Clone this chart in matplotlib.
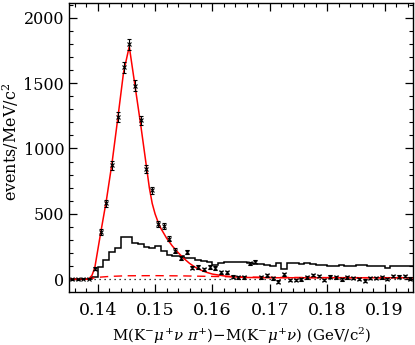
import numpy as np
import matplotlib
matplotlib.use("Agg")
import matplotlib.pyplot as plt
from matplotlib.ticker import MultipleLocator

plt.rcParams['font.family'] = ['DejaVu Serif']
plt.rcParams['mathtext.fontset'] = 'dejavuserif'

# bin layout (60 bins of 1 MeV)
bin_lo = 0.135
bin_w = 0.001
n_bins = 60

# data points (events per bin)
data_vals = [2, 2, 3, 5, 80, 360, 580, 870, 1240, 1620,
             1795, 1480, 1215, 842, 680, 422, 408, 310, 220, 165,
             209, 89, 96, 76, 92, 84, 54, 54, 20, 15,
             15, 122, 135, 15, 31, 8, -18, 38, -5, -5,
             0, 15, 33, 25, -5, 20, 15, 0, 15, 10,
             3, -10, 10, 10, 15, 3, 25, 20, 25, 5]
data_errs = [4, 4, 4, 5, 12, 22, 28, 32, 38, 42,
             45, 40, 36, 32, 28, 24, 24, 20, 18, 16,
             18, 14, 14, 14, 14, 14, 12, 12, 10, 10,
             10, 14, 14, 10, 10, 10, 10, 10, 10, 10,
             10, 10, 10, 10, 10, 10, 10, 10, 10, 10,
             10, 10, 10, 10, 10, 10, 10, 10, 10, 10]

# black histogram (wrong-sign / background sample)
hist_vals = [0, 0, 0, 0, 20, 96, 148, 211, 237, 321,
             321, 280, 270, 249, 237, 255, 219, 186, 178, 175,
             165, 160, 150, 140, 135, 110, 125, 130, 135, 135,
             130, 125, 120, 115, 110, 100, 125, 80, 125, 125,
             120, 125, 120, 110, 110, 100, 105, 110, 105, 100,
             110, 110, 100, 105, 100, 85, 100, 100, 100, 100]

# fitted total curve (solid red)
fit_x = [0.1350, 0.1380, 0.1385, 0.1390, 0.1395, 0.1405, 0.1415, 0.1425,
         0.1435, 0.1445, 0.1455, 0.1465, 0.1475, 0.1485, 0.1490, 0.1495,
         0.1500, 0.1505, 0.1510, 0.1520, 0.1530, 0.1540, 0.1550, 0.1560,
         0.1570, 0.1580, 0.1590, 0.1600, 0.1620, 0.1640, 0.1660, 0.1700,
         0.1800, 0.1950]
fit_y = [0, 0, 5, 30, 90, 350, 600, 890,
         1230, 1580, 1780, 1480, 1180, 860, 700, 580,
         500, 440, 390, 315, 255, 205, 160, 122,
         92, 70, 53, 40, 26, 18, 14, 12,
         12, 12]

# background curve (dashed red)
bkg_x = [0.1380, 0.1390, 0.1400, 0.1420, 0.1450, 0.1500, 0.1550, 0.1600,
         0.1650, 0.1700, 0.1800, 0.1950]
bkg_y = [0, 8, 15, 22, 27, 28, 26, 22, 18, 15, 13, 12]

centers = bin_lo + bin_w * (np.arange(n_bins) + 0.5)
edges = bin_lo + bin_w * np.arange(n_bins + 1)

fig = plt.figure(figsize=(4.15, 3.45), dpi=100)
ax = fig.add_axes([69/415, 1-292/345, (413.3-69)/415, (292-3)/345])

ax.axhline(0, color='black', lw=0.9, ls=(0, (1, 3)))
ax.stairs(hist_vals, edges, color='black', lw=1.1, baseline=None)
ax.plot(bkg_x, bkg_y, color='red', lw=1.0, ls=(0, (6, 4)))
ax.plot(fit_x, fit_y, color='red', lw=1.1)
ax.errorbar(centers, data_vals, yerr=data_errs, fmt='x', color='black',
            ms=3, mew=0.8, elinewidth=0.8, capsize=1.5, capthick=0.8)

ax.set_xlim(0.135, 0.195)
ax.set_ylim(-97, 2112)
ax.xaxis.set_major_locator(MultipleLocator(0.01))
ax.xaxis.set_minor_locator(MultipleLocator(0.002))
ax.yaxis.set_major_locator(MultipleLocator(500))
ax.yaxis.set_minor_locator(MultipleLocator(100))
ax.tick_params(which='both', direction='in', top=True, right=True)
ax.tick_params(axis='y', labelsize=11.5)
ax.tick_params(axis='x', labelsize=12.5, pad=7)
ax.tick_params(which='major', length=6, width=0.9)
ax.tick_params(which='minor', length=3, width=0.8)
ax.set_xticks([0.14, 0.15, 0.16, 0.17, 0.18, 0.19])
ax.set_xticklabels(['0.14', '0.15', '0.16', '0.17', '0.18', '0.19'])
for s in ax.spines.values():
    s.set_linewidth(1.0)

ax.set_xlabel(r'M(K$^{-}\mu^{+}\nu\ \pi^{+}$)$-$M(K$^{-}\mu^{+}\nu$) (GeV/c$^{2}$)', fontsize=10.8, labelpad=5)
fig.text(11/415, 1-142/345, r'events/MeV/c$^{2}$', fontsize=11.5, rotation=90,
         ha='center', va='center')

fig.savefig('out.png', dpi=100)
